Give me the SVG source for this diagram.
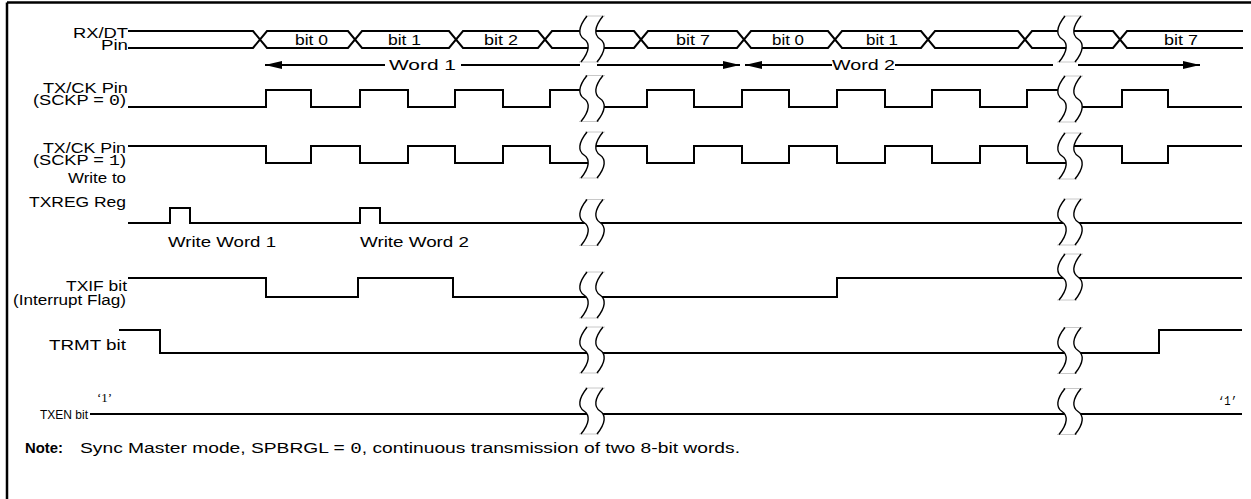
<svg xmlns="http://www.w3.org/2000/svg" xmlns:xlink="http://www.w3.org/1999/xlink" width="1251" height="499" viewBox="0 0 1251 499">
<style>
.sig{fill:none;stroke:#000;stroke-width:2;stroke-linejoin:miter}
.lbl{font-family:"Liberation Sans",Arial,sans-serif;font-size:14px;fill:#000}
.sm{font-family:"Liberation Sans",Arial,sans-serif;font-size:12.5px;fill:#000}
.mono{font-family:"Liberation Mono","Courier New",monospace}
.note{font-family:"Liberation Sans",Arial,sans-serif;font-size:14px;fill:#000}
.frame{stroke:#000;stroke-width:2.5;fill:none}
.brk-fill{fill:#fff;stroke:none}
.brk-edge{fill:none;stroke:#c8c8c8;stroke-width:1}
.brk-curve{fill:none;stroke:#000;stroke-width:1.4}
</style>
<defs>
<marker id="ah" viewBox="0 0 17 8" refX="17" refY="4" markerWidth="17" markerHeight="8" markerUnits="userSpaceOnUse" orient="auto">
<path d="M0,0 L17,4 L0,8 Z" fill="#000"/>
</marker>
<g id="brk">
<path class="brk-fill" d="M-5,-23 L11,-23 C2,-12 2,-4 8,0 C14,4 14,12 5,23 L-11,23 C-2,12 -2,4 -8,0 C-14,-4 -14,-12 -5,-23 Z"/>
<path class="brk-edge" d="M-7,-23 L13,-23 M-13,23 L7,23"/>
<path class="brk-curve" d="M-5,-23 C-14,-12 -14,-4 -8,0 C-2,4 -2,12 -11,23"/>
<path class="brk-curve" d="M11,-23 C2,-12 2,-4 8,0 C14,4 14,12 5,23"/>
</g>
</defs>

<g id="frame">
<line class="frame" x1="7" y1="2.5" x2="1251" y2="2.5"/>
<line class="frame" x1="7" y1="2.5" x2="7" y2="499"/>
</g>

<g id="labels">
<text class="lbl" x="73" y="38" textLength="55" lengthAdjust="spacingAndGlyphs">RX/DT</text>
<text class="lbl" x="101" y="50" textLength="27" lengthAdjust="spacingAndGlyphs">Pin</text>
<text class="lbl" x="43" y="93" textLength="85" lengthAdjust="spacingAndGlyphs">TX/CK Pin</text>
<text class="lbl" x="33" y="105" textLength="93" lengthAdjust="spacingAndGlyphs">(SCKP = <tspan class="mono">0</tspan>)</text>
<text class="lbl" x="43" y="153" textLength="83" lengthAdjust="spacingAndGlyphs">TX/CK Pin</text>
<text class="lbl" x="33" y="165" textLength="93" lengthAdjust="spacingAndGlyphs">(SCKP = <tspan class="mono">1</tspan>)</text>
<text class="lbl" x="68" y="183" textLength="58" lengthAdjust="spacingAndGlyphs">Write to</text>
<text class="lbl" x="29" y="207" textLength="97" lengthAdjust="spacingAndGlyphs">TXREG Reg</text>
<text class="lbl" x="66" y="291" textLength="61" lengthAdjust="spacingAndGlyphs">TXIF bit</text>
<text class="lbl" x="13" y="305" textLength="113" lengthAdjust="spacingAndGlyphs">(Interrupt Flag)</text>
<text class="lbl" x="49" y="350" textLength="77" lengthAdjust="spacingAndGlyphs">TRMT bit</text>
<text class="sm" x="40" y="419" textLength="48" lengthAdjust="spacingAndGlyphs">TXEN bit</text>
</g>

<g id="rxdt">
<polyline class="sig" points="128,31 253,31 267,48 348,48 362,31 449,31 463,48 538,48 552,31 634,31 648,48 737,48 751,31 828,31 842,48 921,48 935,31 1018,31 1032,48 1113,48 1127,31 1243,31"/>
<polyline class="sig" points="128,48 253,48 267,31 348,31 362,48 449,48 463,31 538,31 552,48 634,48 648,31 737,31 751,48 828,48 842,31 921,31 935,48 1018,48 1032,31 1113,31 1127,48 1243,48"/>
<text class="lbl" x="295" y="45" textLength="33" lengthAdjust="spacingAndGlyphs">bit 0</text>
<text class="lbl" x="388" y="45" textLength="33" lengthAdjust="spacingAndGlyphs">bit 1</text>
<text class="lbl" x="484" y="45" textLength="34" lengthAdjust="spacingAndGlyphs">bit 2</text>
<text class="lbl" x="676" y="45" textLength="34" lengthAdjust="spacingAndGlyphs">bit 7</text>
<text class="lbl" x="772" y="45" textLength="32" lengthAdjust="spacingAndGlyphs">bit 0</text>
<text class="lbl" x="866" y="45" textLength="32" lengthAdjust="spacingAndGlyphs">bit 1</text>
<text class="lbl" x="1164" y="45" textLength="34" lengthAdjust="spacingAndGlyphs">bit 7</text>
</g>

<g id="words">
<text class="lbl" x="389" y="70" textLength="67" lengthAdjust="spacingAndGlyphs">Word 1</text>
<text class="lbl" x="832" y="70" textLength="63" lengthAdjust="spacingAndGlyphs">Word 2</text>
</g>

<g id="connectors">
<line class="sig" x1="385" y1="65" x2="265" y2="65" marker-end="url(#ah)"/>
<line class="sig" x1="461" y1="65" x2="580" y2="65"/>
<line class="sig" x1="597" y1="65" x2="740" y2="65" marker-end="url(#ah)"/>
<line class="sig" x1="832" y1="65" x2="745" y2="65" marker-end="url(#ah)"/>
<line class="sig" x1="895" y1="65" x2="1053" y2="65"/>
<line class="sig" x1="1078" y1="65" x2="1200" y2="65" marker-end="url(#ah)"/>
</g>

<g id="txck0">
<path class="sig" d="M128,107 H266 V90 H311 V107 H360 V90 H408 V107 H455 V90 H503 V107 H550 V90 H592 M592,107 H647 V90 H694 V107 H742 V90 H789 V107 H837 V90 H885 V107 H932 V90 H980 V107 H1027 V90 H1070 M1070,107 H1122 V90 H1168 V107 H1242"/>
</g>

<g id="txck1">
<path class="sig" d="M128,146 H266 V163 H311 V146 H360 V163 H408 V146 H455 V163 H503 V146 H550 V163 H592 M592,146 H647 V163 H694 V146 H742 V163 H789 V146 H837 V163 H885 V146 H932 V163 H980 V146 H1027 V163 H1070 M1070,146 H1122 V163 H1168 V146 H1242"/>
</g>

<g id="txreg">
<path class="sig" d="M128,223 H170 V208 H190 V223 H360 V208 H380 V223 H1242"/>
<text class="lbl" x="168" y="247" textLength="108" lengthAdjust="spacingAndGlyphs">Write Word 1</text>
<text class="lbl" x="360" y="247" textLength="109" lengthAdjust="spacingAndGlyphs">Write Word 2</text>
</g>

<g id="txif">
<path class="sig" d="M128,278 H266 V297 H358 V278 H453 V297 H837 V278 H1242"/>
</g>

<g id="trmt">
<path class="sig" d="M119,330 H160 V353 H1159 V330 H1242"/>
</g>

<g id="txen">
<path class="sig" d="M90,414 H1242"/>
<text x="97" y="402" font-family="Liberation Serif, serif" font-size="13">‘1’</text>
<text x="1218" y="405" font-family="Liberation Mono, monospace" font-size="13" textLength="19" lengthAdjust="spacingAndGlyphs">‘1’</text>
</g>

<g id="breaks">
<use xlink:href="#brk" x="592" y="39"/>
<use xlink:href="#brk" x="592" y="98.5"/>
<use xlink:href="#brk" x="592" y="155"/>
<use xlink:href="#brk" x="592" y="222.5"/>
<use xlink:href="#brk" x="592" y="295"/>
<use xlink:href="#brk" x="592" y="350"/>
<use xlink:href="#brk" x="592" y="411"/>
<use xlink:href="#brk" x="1070" y="39"/>
<use xlink:href="#brk" x="1070" y="99"/>
<use xlink:href="#brk" x="1070" y="156"/>
<use xlink:href="#brk" x="1070" y="222"/>
<use xlink:href="#brk" x="1070" y="277"/>
<use xlink:href="#brk" x="1070" y="350.5"/>
<use xlink:href="#brk" x="1070" y="411.5"/>
</g>

<g id="note">
<text class="note" x="25" y="453" font-weight="bold" textLength="38" lengthAdjust="spacingAndGlyphs">Note:</text>
<text class="note" x="80" y="453" textLength="660" lengthAdjust="spacingAndGlyphs">Sync Master mode, SPBRGL = <tspan class="mono">0</tspan>, continuous transmission of two 8-bit words.</text>
</g>
</svg>
